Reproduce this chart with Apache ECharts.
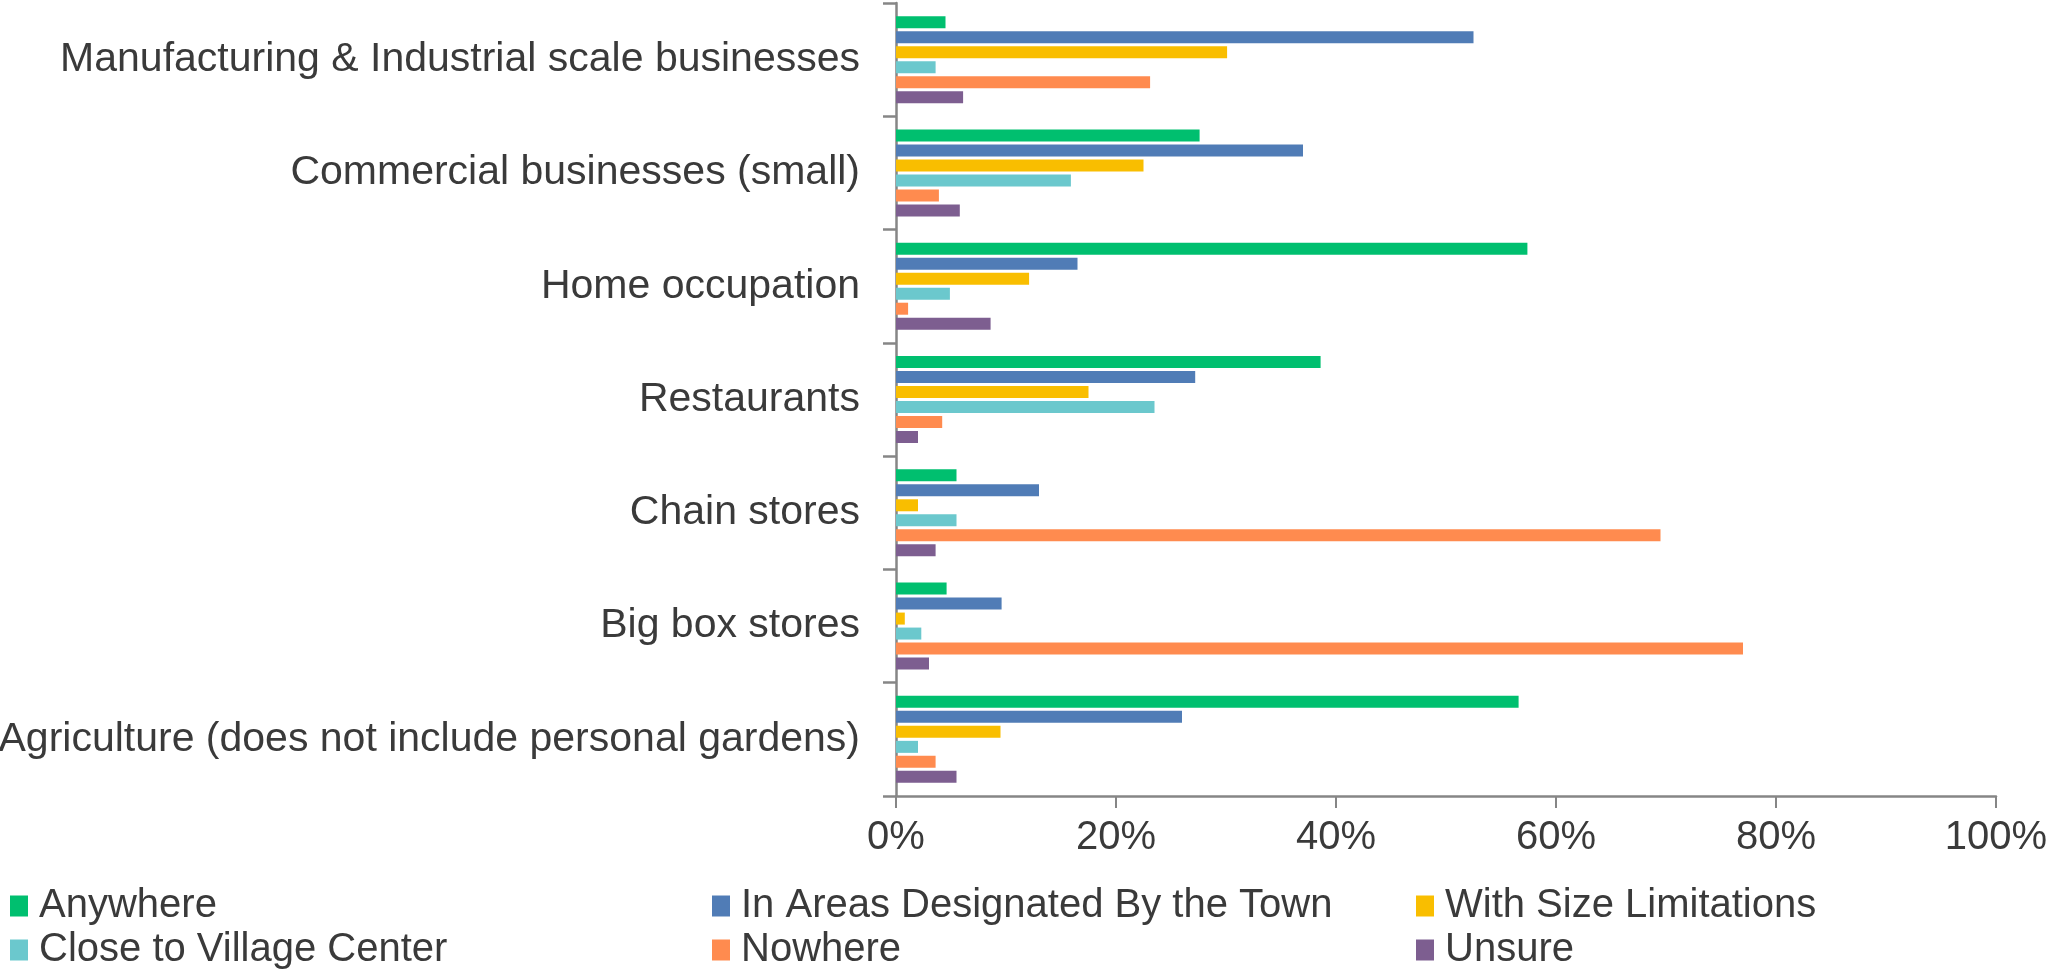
<!DOCTYPE html>
<html>
<head>
<meta charset="utf-8">
<script src="https://cdn.jsdelivr.net/npm/echarts@6/dist/echarts.min.js"></script>
<style>
html,body{margin:0;padding:0;background:#fff;}
#chart{width:2049px;height:975px;}
</style>
</head>
<body>
<div id="chart"></div>
<script>
// Categories, top to bottom
const categories = [
  "Manufacturing & Industrial scale businesses",
  "Commercial businesses (small)",
  "Home occupation",
  "Restaurants",
  "Chain stores",
  "Big box stores",
  "Agriculture (does not include personal gardens)"
];
const seriesNames = ["Anywhere", "In Areas Designated By the Town", "With Size Limitations", "Close to Village Center", "Nowhere", "Unsure"];
const anywhere     = [4.5, 27.6, 57.4, 38.6, 5.5, 4.6, 56.6];
const inAreas      = [52.5, 37.0, 16.5, 27.2, 13.0, 9.6, 26.0];
const sizeLimits   = [30.1, 22.5, 12.1, 17.5, 2.0, 0.8, 9.5];
const closeVillage = [3.6, 15.9, 4.9, 23.5, 5.5, 2.3, 2.0];
const nowhere      = [23.1, 3.9, 1.1, 4.2, 69.5, 77.0, 3.6];
const unsure       = [6.1, 5.8, 8.6, 2.0, 3.6, 3.0, 5.5];
const xTicks = [0, 20, 40, 60, 80, 100];

const colors = ["#00BF6F", "#507CB6", "#F9BE00", "#6BC8CD", "#FF8B4F", "#7D5E90"];
const values = [anywhere, inAreas, sizeLimits, closeVillage, nowhere, unsure];

const FONT = "Liberation Sans, Arial, sans-serif";
const TXT = "#3a3a3a";
const AX = "#868686";

const chart = echarts.init(document.getElementById('chart'));

const series = seriesNames.map((n, i) => ({
  name: n,
  type: 'bar',
  data: values[i],
  itemStyle: { color: colors[i] },
  barWidth: 12,
  barGap: '25%',
  barCategoryGap: '23%'
}));

const legendPos = [
  [10, 886], [712, 886], [1416, 886],
  [10, 930], [712, 930], [1416, 930]
];
const legends = seriesNames.map((n, i) => ({
  data: [n],
  left: legendPos[i][0],
  top: legendPos[i][1],
  padding: 0,
  itemWidth: 18,
  itemHeight: 21,
  itemGap: 0,
  icon: 'rect',
  selectedMode: false,
  textStyle: { fontFamily: FONT, fontSize: 40, color: TXT, lineHeight: 40, padding: [0, 0, 0, 6] }
}));

chart.setOption({
  animation: false,
  color: colors,
  legend: legends,
  grid: { left: 896, right: 53, top: 3, bottom: 179, containLabel: false, outerBoundsMode: 'none' },
  xAxis: {
    type: 'value',
    min: 0, max: 100, interval: 20,
    axisLine: { show: true, lineStyle: { color: AX, width: 2.5 } },
    axisTick: { show: true, length: 12, lineStyle: { color: AX, width: 2 } },
    splitLine: { show: false },
    axisLabel: {
      fontFamily: FONT, fontSize: 40, color: TXT, margin: 22,
      formatter: v => xTicks.includes(v) ? v + '%' : ''
    }
  },
  yAxis: {
    type: 'category',
    data: categories,
    inverse: true,
    axisLine: { show: true, lineStyle: { color: AX, width: 2.5 } },
    axisTick: { show: true, length: 13, alignWithLabel: false, lineStyle: { color: AX, width: 2.5 } },
    axisLabel: { fontFamily: FONT, fontSize: 41, color: TXT, margin: 36 }
  },
  series: series
});
</script>
</body>
</html>
